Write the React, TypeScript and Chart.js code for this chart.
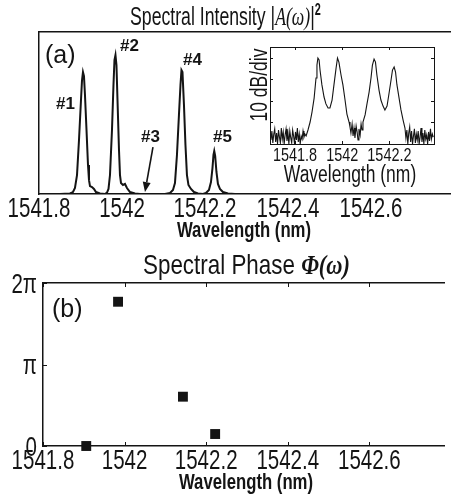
import React, { useEffect, useRef } from "react";
import { Chart, registerables } from "chart.js";

Chart.register(...registerables);

// ---------------- data ----------------
const mainTicks = [1541.8, 1542, 1542.2, 1542.4, 1542.6];

const spectrumWavelength = [
  1541.8, 1541.8506, 1541.8747, 1541.8819, 1541.8867, 1541.8916, 1541.8964, 1541.9012, 1541.9036, 1541.906,
  1541.9084, 1541.9108, 1541.9145, 1541.9181, 1541.9205, 1541.9229, 1541.9277, 1541.9325, 1541.9373, 1541.947,
  1541.959, 1541.9639, 1541.9675, 1541.9711, 1541.9759, 1541.9795, 1541.9819, 1541.9843, 1541.9867, 1541.9892,
  1541.9928, 1541.9952, 1541.9976, 1542.0024, 1542.0072, 1542.012, 1542.0193, 1542.0313, 1542.0434,
  1542.1036, 1542.1157, 1542.1229, 1542.1277, 1542.1325, 1542.1373, 1542.141, 1542.1434, 1542.1458, 1542.1494,
  1542.153, 1542.1566, 1542.1602, 1542.1663, 1542.1735, 1542.1831,
  1542.1952, 1542.2024, 1542.2096, 1542.2145, 1542.2181, 1542.2205, 1542.2224, 1542.2246, 1542.2277, 1542.2313,
  1542.2361, 1542.2434, 1542.2554, 1542.2723, 1542.79,
];
const spectrumIntensity = [
  0, 0, 0.003, 0.012, 0.037, 0.117, 0.333, 0.58, 0.7, 0.753,
  0.728, 0.611, 0.395, 0.179, 0.086, 0.049, 0.043, 0.031, 0.012, 0.003,
  0, 0.009, 0.031, 0.117, 0.395, 0.673, 0.827, 0.858, 0.796, 0.58,
  0.272, 0.117, 0.068, 0.056, 0.062, 0.037, 0.012, 0.003, 0,
  0, 0.006, 0.025, 0.068, 0.241, 0.488, 0.673, 0.765, 0.753, 0.549,
  0.302, 0.117, 0.056, 0.031, 0.012, 0.003,
  0, 0.006, 0.025, 0.074, 0.16, 0.241, 0.265, 0.235, 0.136, 0.062,
  0.031, 0.012, 0.003, 0, 0,
];

const peakLabels = ["#1", "#2", "#3", "#4", "#5"];
const arrowFrom = { x: 1542.0747, y: 0.29 };
const arrowTo = { x: 1542.0554, y: 0.012 };

const insetTicks = [1541.8, 1542, 1542.2];
const insetDbTicks = [10, 20, 30, 40];
const insetWavelength = [
  1541.698, 1541.702, 1541.706, 1541.71, 1541.714, 1541.718, 1541.722, 1541.726, 1541.73, 1541.734,
  1541.738, 1541.742, 1541.746, 1541.75, 1541.754, 1541.758, 1541.762, 1541.766, 1541.77, 1541.774,
  1541.778, 1541.782, 1541.786, 1541.79, 1541.794, 1541.798, 1541.802, 1541.806, 1541.81, 1541.814,
  1541.818, 1541.822, 1541.826, 1541.83, 1541.834, 1541.838, 1541.842,
  1541.847, 1541.855, 1541.864, 1541.872, 1541.881, 1541.889, 1541.893, 1541.897, 1541.902, 1541.906,
  1541.914, 1541.923, 1541.931, 1541.94, 1541.948, 1541.957, 1541.965, 1541.974, 1541.98, 1541.986,
  1541.995, 1542.003, 1542.012, 1542.02, 1542.029,
  1542.033, 1542.037, 1542.042, 1542.046, 1542.05, 1542.054, 1542.059, 1542.063, 1542.067, 1542.071,
  1542.076, 1542.08, 1542.084, 1542.088,
  1542.097, 1542.105, 1542.114, 1542.122, 1542.128, 1542.135, 1542.141, 1542.147, 1542.156, 1542.164,
  1542.173, 1542.181, 1542.19, 1542.198, 1542.207, 1542.213, 1542.22, 1542.226, 1542.232, 1542.241,
  1542.249, 1542.258, 1542.266,
  1542.27, 1542.274, 1542.278, 1542.282, 1542.286, 1542.29, 1542.294, 1542.298, 1542.302, 1542.306,
  1542.31, 1542.314, 1542.318, 1542.322, 1542.326, 1542.33, 1542.334, 1542.338, 1542.342, 1542.346,
  1542.35, 1542.354, 1542.358, 1542.362, 1542.366, 1542.37, 1542.374, 1542.378, 1542.382, 1542.386,
];
const insetPowerDb = [
  1.9, 6.0, 0.5, 4.6, 7.0, 0.9, 5.1, 0.0, 6.5, 3.2,
  0.5, 7.4, 2.3, 5.6, 0.0, 4.2, 7.0, 1.4, 5.1, 0.0,
  6.0, 2.8, 0.5, 6.5, 3.7, 0.0, 5.6, 1.9, 7.4, 0.9,
  4.6, 0.0, 3.7, 2.3, 6.0, 3.2, 4.6,
  3.7, 6.5, 10.2, 14.8, 21.3, 30.6, 36.6, 39.9, 39.0, 34.3,
  27.4, 21.8, 18.6, 16.7, 16.7, 20.4, 27.4, 35.2, 39.9, 38.0,
  32.0, 27.4, 20.4, 13.9, 10.2,
  7.9, 5.1, 9.3, 3.7, 7.4, 2.8, 8.3, 5.6, 1.9, 7.0,
  4.2, 9.3, 6.5, 10.2,
  13.5, 18.6, 24.1, 30.6, 36.6, 39.4, 38.0, 32.0, 25.0, 20.4,
  17.6, 15.8, 17.6, 23.2, 29.7, 34.3, 35.7, 33.4, 27.4, 21.3,
  15.8, 11.1, 7.4,
  2.8, 6.5, 0.0, 5.1, 7.9, 0.9, 6.0, 0.0, 3.7, 7.0,
  0.5, 4.6, 1.9, 6.0, 0.0, 3.2, 7.4, 0.9, 5.1, 0.0,
  6.5, 2.3, 4.2, 0.0, 5.6, 1.4, 7.0, 2.3, 4.6, 3.2,
];

const phaseWavelength = [1541.906, 1541.984, 1542.143, 1542.222];
const phaseOverPi = [0, 1.77, 0.605, 0.147];
const phaseTicks = [0, 1, 2];
const phaseTickLabels = ["0", "π", "2π"];

// ---------------- styles ----------------
const INK = "#141414";
const SANS = "'Liberation Sans', Arial, sans-serif";
const SERIF = "'Liberation Serif', 'Times New Roman', serif";
const SX = 0.76; // horizontal condensing of the figure's text

const fmt = (v: number) => String(parseFloat(Number(v).toFixed(3)));

type TickItem = { scale: string; size: number; sx: number; offset: number; labels?: string[] };

const makeTickText = (items: TickItem[]) => ({
  id: "tickText",
  afterDraw(chart: any) {
    const { ctx, chartArea: a } = chart;
    items.forEach((it) => {
      const s = chart.scales[it.scale];
      const horiz = s.isHorizontal();
      ctx.save();
      ctx.fillStyle = INK;
      ctx.font = `${it.size}px ${SANS}`;
      ctx.textBaseline = "alphabetic";
      ctx.textAlign = horiz ? "center" : "right";
      s.ticks.forEach((t: any, i: number) => {
        const label = it.labels ? it.labels[i] : fmt(t.value);
        const p = s.getPixelForValue(t.value);
        const x = horiz ? p : a.left - it.offset;
        const y = horiz ? a.bottom + it.offset : p + (it.size * 0.716) / 2;
        ctx.save();
        ctx.translate(x, y);
        ctx.scale(it.sx, 1);
        ctx.fillText(label, 0, 0);
        ctx.restore();
      });
      ctx.restore();
    });
  },
});

const innerTicks = {
  id: "innerTicks",
  afterDraw(chart: any, _args: any, opts: any) {
    if (!opts || !opts.enabled) return;
    const { ctx, chartArea: a } = chart;
    const L = opts.length || 4;
    ctx.save();
    ctx.strokeStyle = INK;
    ctx.lineWidth = 1;
    const seg = (x1: number, y1: number, x2: number, y2: number) => {
      ctx.beginPath();
      ctx.moveTo(x1, y1);
      ctx.lineTo(x2, y2);
      ctx.stroke();
    };
    const xs = chart.scales.x;
    xs.ticks.forEach((t: any) => {
      const px = Math.round(xs.getPixelForValue(t.value)) + 0.5;
      seg(px, a.bottom, px, a.bottom - L);
      if (opts.top) seg(px, a.top, px, a.top + L);
    });
    const ys = chart.scales.y;
    ys.ticks.forEach((t: any) => {
      const py = Math.round(ys.getPixelForValue(t.value)) + 0.5;
      seg(a.left, py, a.left + L, py);
      if (opts.right) seg(a.right, py, a.right - L, py);
    });
    ctx.restore();
  },
};

const arrowPlugin = {
  id: "arrowPlugin",
  afterDatasetsDraw(chart: any) {
    const { ctx } = chart;
    const xs = chart.scales.x;
    const ys = chart.scales.y;
    const x1 = xs.getPixelForValue(arrowFrom.x);
    const y1 = ys.getPixelForValue(arrowFrom.y);
    const x2 = xs.getPixelForValue(arrowTo.x);
    const y2 = ys.getPixelForValue(arrowTo.y);
    const ang = Math.atan2(y2 - y1, x2 - x1);
    const hl = 10;
    const hw = 4;
    const bx = x2 - hl * Math.cos(ang);
    const by = y2 - hl * Math.sin(ang);
    ctx.save();
    ctx.strokeStyle = INK;
    ctx.fillStyle = INK;
    ctx.lineWidth = 1.6;
    ctx.beginPath();
    ctx.moveTo(x1, y1);
    ctx.lineTo(bx, by);
    ctx.stroke();
    ctx.beginPath();
    ctx.moveTo(x2, y2);
    ctx.lineTo(bx + hw * Math.sin(ang), by - hw * Math.cos(ang));
    ctx.lineTo(bx - hw * Math.sin(ang), by + hw * Math.cos(ang));
    ctx.closePath();
    ctx.fill();
    ctx.restore();
  },
};

const border = { display: true, color: INK, width: 1.5 };
const thinBorder = { display: true, color: INK, width: 1 };
const noGrid = { display: false, drawTicks: false };
const hiddenTicks = { display: false };

const baseOptions = {
  animation: false as const,
  responsive: false,
  maintainAspectRatio: false,
  devicePixelRatio: 1,
  events: [] as any[],
  layout: { padding: 0 },
  plugins: { legend: { display: false }, tooltip: { enabled: false }, title: { display: false } },
};

function useChart(ref: React.RefObject<HTMLCanvasElement | null>, make: (c: HTMLCanvasElement) => Chart) {
  useEffect(() => {
    if (!ref.current) return;
    const ch = make(ref.current);
    return () => ch.destroy();
  }, []);
}

export default function App() {
  const topRef = useRef<HTMLCanvasElement>(null);
  const insetRef = useRef<HTMLCanvasElement>(null);
  const botRef = useRef<HTMLCanvasElement>(null);

  useChart(topRef, (c) =>
    new Chart(c, {
      type: "line",
      data: {
        datasets: [
          {
            data: spectrumWavelength.map((x, i) => ({ x, y: spectrumIntensity[i] })),
            borderColor: INK,
            borderWidth: 2,
            pointRadius: 0,
            tension: 0,
            fill: false,
          },
        ],
      },
      options: {
        ...baseOptions,
        scales: {
          x: {
            type: "linear",
            position: "bottom",
            min: 1541.8,
            max: 1542.793,
            afterBuildTicks: (s: any) => {
              s.ticks = mainTicks.map((v) => ({ value: v }));
            },
            ticks: hiddenTicks,
            grid: noGrid,
            border,
            afterFit: (s: any) => {
              s.height = 46;
            },
          },
          xTop: {
            type: "linear",
            position: "top",
            min: 1541.8,
            max: 1542.793,
            ticks: hiddenTicks,
            grid: noGrid,
            border,
            afterFit: (s: any) => {
              s.height = 32;
            },
          },
          y: {
            type: "linear",
            min: 0,
            max: 1,
            ticks: hiddenTicks,
            grid: noGrid,
            border,
            afterFit: (s: any) => {
              s.width = 39;
            },
          },
        },
      } as any,
      plugins: [arrowPlugin, makeTickText([{ scale: "x", size: 27, sx: SX, offset: 23 }])],
    })
  );

  useChart(insetRef, (c) =>
    new Chart(c, {
      type: "line",
      data: {
        datasets: [
          {
            data: insetWavelength.map((x, i) => ({ x, y: insetPowerDb[i] })),
            borderColor: INK,
            borderWidth: 1.1,
            pointRadius: 0,
            tension: 0,
            fill: false,
          },
        ],
      },
      options: {
        ...baseOptions,
        plugins: { ...baseOptions.plugins, innerTicks: { enabled: true, top: true, right: true, length: 3 } },
        scales: {
          x: {
            type: "linear",
            position: "bottom",
            min: 1541.694,
            max: 1542.389,
            afterBuildTicks: (s: any) => {
              s.ticks = insetTicks.map((v) => ({ value: v }));
            },
            ticks: hiddenTicks,
            grid: noGrid,
            border: thinBorder,
            afterFit: (s: any) => {
              s.height = 45;
            },
          },
          xTop: {
            type: "linear",
            position: "top",
            ticks: hiddenTicks,
            grid: noGrid,
            border: thinBorder,
            afterFit: (s: any) => {
              s.height = 3;
            },
          },
          y: {
            type: "linear",
            min: 0,
            max: 45,
            afterBuildTicks: (s: any) => {
              s.ticks = insetDbTicks.map((v) => ({ value: v }));
            },
            ticks: hiddenTicks,
            grid: noGrid,
            border: thinBorder,
            afterFit: (s: any) => {
              s.width = 25;
            },
          },
          y2: {
            type: "linear",
            position: "right",
            ticks: hiddenTicks,
            grid: noGrid,
            border: thinBorder,
            afterFit: (s: any) => {
              s.width = 6;
            },
          },
        },
      } as any,
      plugins: [innerTicks, makeTickText([{ scale: "x", size: 19, sx: SX, offset: 17 }])],
    })
  );

  useChart(botRef, (c) =>
    new Chart(c, {
      type: "scatter",
      data: {
        datasets: [
          {
            data: phaseWavelength.map((x, i) => ({ x, y: phaseOverPi[i] })),
            pointStyle: "rect",
            pointRadius: 7,
            borderWidth: 0,
            backgroundColor: INK,
            clip: false,
          } as any,
        ],
      },
      options: {
        ...baseOptions,
        plugins: { ...baseOptions.plugins, innerTicks: { enabled: true, top: true, right: false, length: 4 } },
        scales: {
          x: {
            type: "linear",
            position: "bottom",
            min: 1541.8,
            max: 1542.783,
            afterBuildTicks: (s: any) => {
              s.ticks = mainTicks.map((v) => ({ value: v }));
            },
            ticks: hiddenTicks,
            grid: noGrid,
            border,
            afterFit: (s: any) => {
              s.height = 48;
            },
          },
          xTop: {
            type: "linear",
            position: "top",
            ticks: hiddenTicks,
            grid: noGrid,
            border,
            afterFit: (s: any) => {
              s.height = 43;
            },
          },
          y: {
            type: "linear",
            min: 0,
            max: 2,
            afterBuildTicks: (s: any) => {
              s.ticks = phaseTicks.map((v) => ({ value: v }));
            },
            ticks: hiddenTicks,
            grid: noGrid,
            border,
            afterFit: (s: any) => {
              s.width = 43;
            },
          },
        },
      } as any,
      plugins: [
        innerTicks,
        makeTickText([
          { scale: "x", size: 27, sx: SX, offset: 23 },
          { scale: "y", size: 27, sx: SX, offset: 6, labels: phaseTickLabels },
        ]),
      ],
    })
  );

  const abs = (left: number, top: number, extra: React.CSSProperties = {}): React.CSSProperties => ({
    position: "absolute",
    left,
    top,
    lineHeight: 1,
    whiteSpace: "nowrap",
    color: INK,
    fontFamily: SANS,
    ...extra,
  });
  const condensedCenter: React.CSSProperties = { transform: `translateX(-50%) scaleX(${SX})` };

  const peakPos = [
    [56, 95],
    [120, 37],
    [141, 128],
    [183, 51],
    [213, 128],
  ];

  return (
    <div style={{ position: "fixed", left: 0, top: 0, width: 451, height: 494, background: "#fff", overflow: "hidden" }}>
      <canvas ref={topRef} width={451} height={240} style={{ position: "absolute", left: 0, top: 0, width: 451, height: 240 }} />
      <canvas ref={botRef} width={451} height={254} style={{ position: "absolute", left: 0, top: 240, width: 451, height: 254 }} />
      <canvas ref={insetRef} width={195} height={145} style={{ position: "absolute", left: 245, top: 44, width: 195, height: 145 }} />

      <div style={abs(130, 3, { fontSize: 26, transform: "scaleX(0.68)", transformOrigin: "left top" })}>
        Spectral Intensity |<span style={{ fontFamily: SERIF, fontStyle: "italic" }}>A(ω)</span>|
        <span style={{ fontWeight: "bold", fontSize: 16, position: "relative", top: -10 }}>2</span>
      </div>
      <div style={abs(143, 251, { fontSize: 28, transform: "scaleX(0.8)", transformOrigin: "left top" })}>
        Spectral Phase{" "}
        <span style={{ fontFamily: SERIF, fontStyle: "italic", fontWeight: "bold" }}>Φ(ω)</span>
      </div>

      <div style={abs(45, 42, { fontSize: 25 })}>(a)</div>
      <div style={abs(52, 296, { fontSize: 25 })}>(b)</div>

      {peakLabels.map((t, i) => (
        <div key={t} style={abs(peakPos[i][0], peakPos[i][1], { fontWeight: "bold", fontSize: 17 })}>
          {t}
        </div>
      ))}

      <div style={abs(244, 219, { fontWeight: "bold", fontSize: 22, ...condensedCenter })}>Wavelength (nm)</div>
      <div style={abs(246, 471, { fontWeight: "bold", fontSize: 22, ...condensedCenter })}>Wavelength (nm)</div>

      <div style={abs(350, 163, { fontSize: 23, ...condensedCenter })}>Wavelength (nm)</div>
      <div style={abs(259, 85, { fontSize: 23, transform: `translate(-50%, -50%) rotate(-90deg) scaleX(${SX})` })}>
        10 dB/div
      </div>
    </div>
  );
}
